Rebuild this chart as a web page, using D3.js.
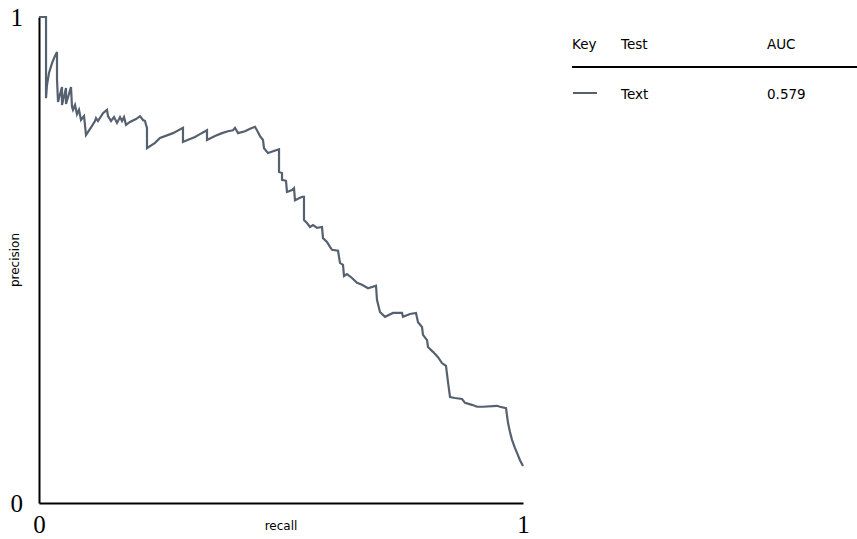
<!DOCTYPE html>
<html>
<head>
<meta charset="utf-8">
<script src="https://cdn.jsdelivr.net/npm/d3@7"></script>
<style>
  html, body { margin: 0; padding: 0; background: #fff; }
  svg { display: block; }
</style>
</head>
<body>
<svg id="chart" width="857" height="539"></svg>
<script>
// Precision-recall curve for the "Text" test
const recall = [
  0, 0.0145, 0.0145, 0.0165, 0.0207, 0.0269, 0.0331, 0.0372, 0.0372, 0.0393,
  0.0475, 0.0475, 0.0558, 0.0558, 0.0661, 0.0682, 0.0702, 0.0744, 0.0785, 0.0826,
  0.0868, 0.0930, 0.0950, 0.0971, 0.1095, 0.1157, 0.1178, 0.1219, 0.1322, 0.1405,
  0.1426, 0.1488, 0.1550, 0.1612, 0.1674, 0.1715, 0.1756, 0.1798, 0.1880, 0.2004,
  0.2087, 0.2149, 0.2190, 0.2211, 0.2231, 0.2231, 0.2397, 0.2500, 0.2769, 0.2975,
  0.2975, 0.3120, 0.3223, 0.3326, 0.3471, 0.3471, 0.3636, 0.3781, 0.3905, 0.4008,
  0.4050, 0.4112, 0.4256, 0.4360, 0.4463, 0.4525, 0.4566, 0.4628, 0.4649, 0.4731,
  0.4959, 0.4959, 0.5021, 0.5021, 0.5103, 0.5124, 0.5227, 0.5269, 0.5289, 0.5434,
  0.5475, 0.5475, 0.5537, 0.5599, 0.5661, 0.5744, 0.5847, 0.5868, 0.5950, 0.6012,
  0.6054, 0.6178, 0.6219, 0.6281, 0.6302, 0.6364, 0.6467, 0.6570, 0.6674, 0.6798,
  0.6963, 0.6983, 0.7045, 0.7149, 0.7314, 0.7500, 0.7521, 0.7665, 0.7789, 0.7831,
  0.7913, 0.7934, 0.8017, 0.8037, 0.8140, 0.8244, 0.8326, 0.8409, 0.8450, 0.8492,
  0.8595, 0.8740, 0.8802, 0.8946, 0.9050, 0.9174, 0.9463, 0.9525, 0.9649, 0.9690,
  0.9731, 0.9773, 0.9835, 0.9876, 0.9938, 1.0
];
const precision = [
  1, 1, 0.833, 0.860, 0.885, 0.905, 0.920, 0.928, 0.872, 0.825,
  0.856, 0.819, 0.854, 0.821, 0.856, 0.815, 0.809, 0.819, 0.800, 0.809,
  0.788, 0.796, 0.778, 0.757, 0.776, 0.786, 0.792, 0.786, 0.802, 0.809,
  0.796, 0.786, 0.794, 0.782, 0.794, 0.786, 0.794, 0.778, 0.784, 0.790,
  0.796, 0.788, 0.786, 0.778, 0.772, 0.730, 0.741, 0.751, 0.761, 0.772,
  0.743, 0.749, 0.753, 0.759, 0.767, 0.747, 0.755, 0.761, 0.765, 0.767,
  0.772, 0.761, 0.765, 0.770, 0.774, 0.763, 0.755, 0.747, 0.730, 0.720,
  0.728, 0.681, 0.679, 0.665, 0.663, 0.640, 0.644, 0.648, 0.623, 0.630,
  0.630, 0.582, 0.576, 0.568, 0.572, 0.566, 0.568, 0.545, 0.537, 0.527,
  0.521, 0.519, 0.494, 0.490, 0.467, 0.471, 0.463, 0.453, 0.449, 0.442,
  0.447, 0.418, 0.393, 0.383, 0.391, 0.391, 0.383, 0.389, 0.391, 0.372,
  0.362, 0.346, 0.335, 0.321, 0.311, 0.300, 0.288, 0.282, 0.249, 0.218,
  0.216, 0.214, 0.206, 0.202, 0.198, 0.198, 0.200, 0.198, 0.195, 0.165,
  0.146, 0.130, 0.113, 0.103, 0.088, 0.076
];

const tests = ["Text"];
const aucValues = ["0.579"];
const axisTicks = [0, 1];
const legendHeaders = ["Key", "Test", "AUC"];
const curveColor = "#56616f";

const svg = d3.select("#chart");
const margin = { left: 39, top: 17, right: 523, bottom: 503 };

const x = d3.scaleLinear().domain([0, 1]).range([margin.left, margin.right]);
const y = d3.scaleLinear().domain([0, 1]).range([margin.bottom, margin.top]);

// axes: plain lines with serif end labels
const xAxis = d3.axisBottom(x).tickValues(axisTicks).tickSize(0).tickPadding(12).tickFormat(d3.format("d"));
const yAxis = d3.axisLeft(y).tickValues(axisTicks).tickSize(0).tickPadding(12).tickFormat(d3.format("d"));

const gx = svg.append("g").attr("transform", `translate(0,${margin.bottom})`).call(xAxis);
const gy = svg.append("g").attr("transform", `translate(${margin.left},0)`).call(yAxis);

[gx, gy].forEach(g => {
  g.select(".domain").attr("stroke", "#000").attr("stroke-width", 2);
  g.selectAll("text")
    .attr("font-family", "'Liberation Serif', 'DejaVu Serif', serif")
    .attr("font-size", 25)
    .attr("fill", "#000");
});
gy.selectAll("text").attr("x", -16);

svg.append("text")
  .attr("x", (margin.left + margin.right) / 2)
  .attr("y", 530)
  .attr("text-anchor", "middle")
  .attr("font-family", "'DejaVu Sans', sans-serif")
  .attr("font-size", 12)
  .text("recall");

svg.append("text")
  .attr("transform", `translate(19,${(margin.top + margin.bottom) / 2}) rotate(-90)`)
  .attr("text-anchor", "middle")
  .attr("font-family", "'DejaVu Sans', sans-serif")
  .attr("font-size", 12)
  .text("precision");

// curve
const points = recall.map((r, i) => [r, precision[i]]);
svg.append("path")
  .datum(points)
  .attr("fill", "none")
  .attr("stroke", curveColor)
  .attr("stroke-width", 2.2)
  .attr("stroke-linejoin", "miter")
  .attr("d", d3.line().x(d => x(d[0])).y(d => y(d[1])));

// legend table
const legend = svg.append("g").attr("font-family", "'DejaVu Sans', sans-serif").attr("font-size", 13.5);
const colX = [572, 621, 767];
legend.selectAll("text.head")
  .data(legendHeaders)
  .join("text")
  .attr("class", "head")
  .attr("x", (d, i) => colX[i])
  .attr("y", 49)
  .text(d => d);

legend.append("line")
  .attr("x1", 572).attr("x2", 857)
  .attr("y1", 67).attr("y2", 67)
  .attr("stroke", "#000").attr("stroke-width", 2);

const rows = legend.selectAll("g.row")
  .data(tests)
  .join("g")
  .attr("class", "row")
  .attr("transform", (d, i) => `translate(0,${93 + i * 26})`);

rows.append("line")
  .attr("x1", 573).attr("x2", 597)
  .attr("y1", 0).attr("y2", 0)
  .attr("stroke", curveColor).attr("stroke-width", 2);
rows.append("text").attr("x", colX[1]).attr("y", 5.5).text(d => d);
rows.append("text").attr("x", colX[2]).attr("y", 5.5).text((d, i) => aucValues[i]);
</script>
</body>
</html>
